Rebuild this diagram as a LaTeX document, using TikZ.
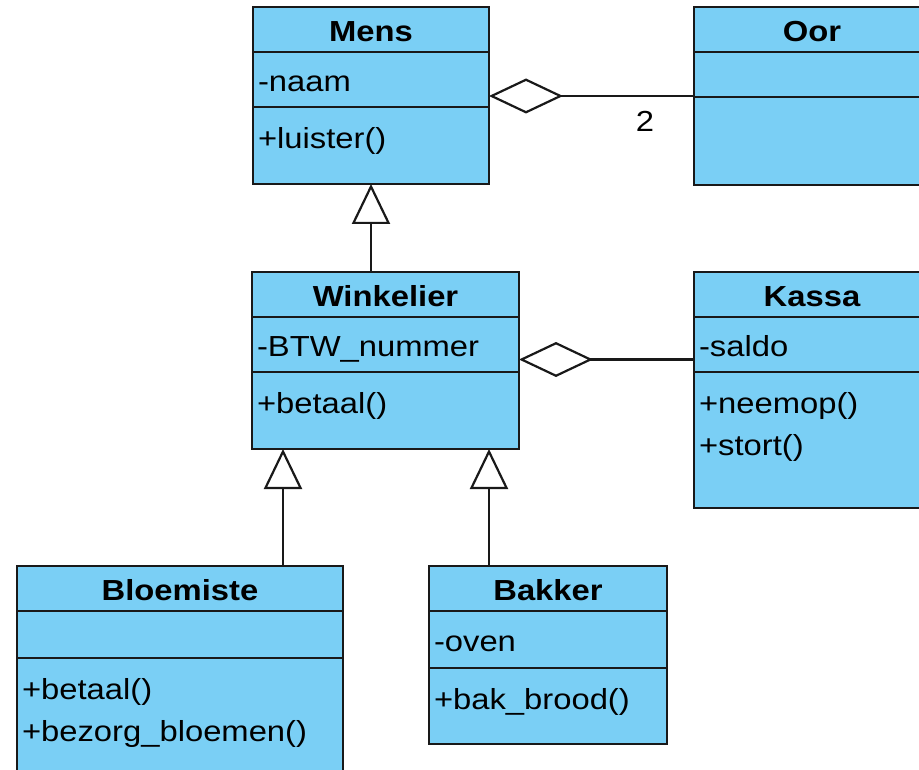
\documentclass[tikz,border=0pt]{standalone}
\usepackage{fontspec}
\setmainfont{Liberation Sans}[FakeStretch=1.13]
\usetikzlibrary{arrows.meta,positioning}
\definecolor{klasblauw}{RGB}{122,207,245}

\begin{document}
\begin{tikzpicture}[x=1pt, y=-1pt, font=\fontsize{29}{42}\selectfont,
  vak/.style={draw=black!90, line width=2.5pt, fill=klasblauw, inner sep=0pt, outer sep=0pt},
  kop/.style={vak, minimum width=#1, minimum height=45pt, font=\fontsize{29}{42}\selectfont\bfseries,
    text height=24pt, text depth=0pt},
  attr/.style 2 args={vak, text width=#1, minimum height=#2, inner xsep=5pt, align=left,
    text height=24pt, text depth=0pt},
  ops/.style={vak, inner xsep=5pt, inner ysep=12.5pt},
  aggregatie/.style={line width=2.2pt, draw=black!90, -{Diamond[length=74pt, width=35pt, fill=white]}},
  overerving/.style={line width=2.2pt, draw=black!90, -{Triangle[length=40pt, width=38pt, fill=white]}}]
\clip (0,0) rectangle (919,770);

\node [kop=236pt, anchor=north west] (mens) at (253,7) {Mens};
\node [attr={226pt}{55pt}, below=0pt of mens] (mensA) {-naam};
\node [ops, below=0pt of mensA] (mensO) {\begin{minipage}[c][52pt][t]{226pt}\strut+luister()\end{minipage}};

\node [kop=236pt, anchor=north west] (oor) at (694,7) {Oor};
\node [attr={226pt}{45pt}, below=0pt of oor] (oorA) {};
\node [attr={226pt}{88pt}, below=0pt of oorA] (oorO) {};

\node [kop=267pt, anchor=north west] (wink) at (252,272) {Winkelier};
\node [attr={257pt}{55pt}, below=0pt of wink] (winkA) {-BTW\_nummer};
\node [ops, below=0pt of winkA] (winkO) {\begin{minipage}[c][52pt][t]{257pt}\strut+betaal()\end{minipage}};

\node [kop=236pt, anchor=north west] (kassa) at (694,272) {Kassa};
\node [attr={226pt}{55pt}, below=0pt of kassa] (kassaA) {-saldo};
\node [ops, below=0pt of kassaA] (kassaO) {\begin{minipage}[c][111pt][t]{226pt}\strut+neemop()\\+stort()\end{minipage}};

\node [kop=326pt, anchor=north west] (bloem) at (17,566) {Bloemiste};
\node [attr={316pt}{47pt}, below=0pt of bloem] (bloemA) {};
\node [ops, below=0pt of bloemA] (bloemO) {\begin{minipage}[c][135pt][t]{316pt}\strut+betaal()\\+bezorg\_bloemen()\end{minipage}};

\node [kop=238pt, anchor=north west] (bakker) at (429,566) {Bakker};
\node [attr={228pt}{57pt}, below=0pt of bakker] (bakkerA) {-oven};
\node [ops, below=0pt of bakkerA] (bakkerO) {\begin{minipage}[c][51pt][t]{228pt}\strut+bak\_brood()\end{minipage}};

\coordinate (oorLijn) at ([yshift=-16.5pt]mensA.east);
\draw [aggregatie] (oorLijn -| oorA.west) -- (oorLijn);
\node (twee) at (645,121) {2};

\coordinate (kassaLijn) at ([yshift=-15pt]winkA.east);
\draw [aggregatie] (kassaLijn -| kassaA.west) -- (kassaLijn);

\draw [overerving] (mensO.south |- wink.north) -- (mensO.south);
\coordinate (bloemPijl) at ([xshift=31pt]winkO.south west);
\draw [overerving] (bloemPijl |- bloem.north) -- (bloemPijl);
\coordinate (bakkerPijl) at ([xshift=-30pt]winkO.south east);
\draw [overerving] (bakkerPijl |- bakker.north) -- (bakkerPijl);
\end{tikzpicture}
\end{document}
